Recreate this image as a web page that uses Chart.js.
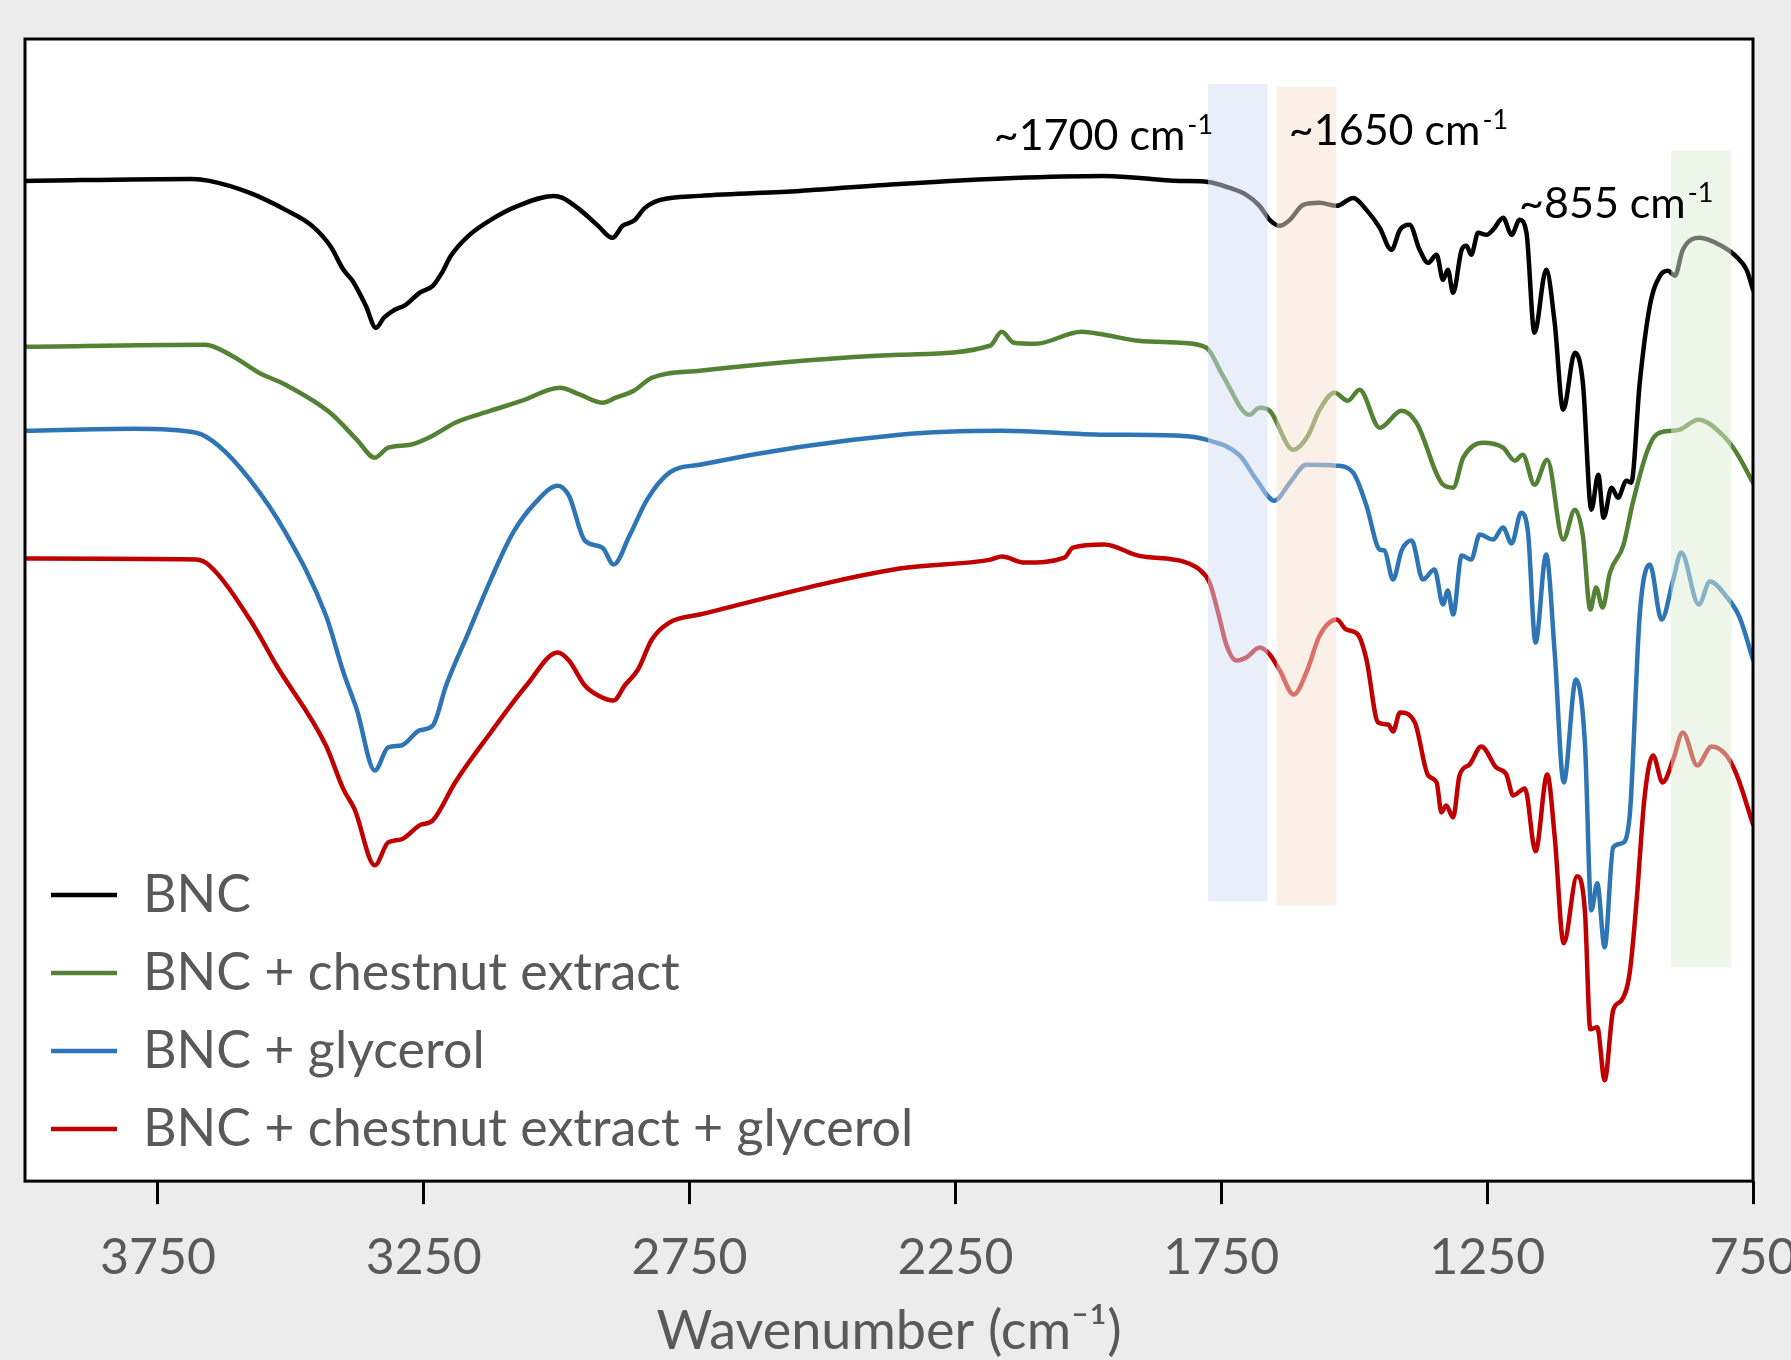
<!DOCTYPE html>
<html>
<head>
<meta charset="utf-8">
<script src="https://cdn.jsdelivr.net/npm/chart.js@4.4.1/dist/chart.umd.min.js"></script>
<style>
  html, body { margin: 0; padding: 0; background: #ececec; overflow: hidden; }
  #wrap { width: 1791px; height: 1360px; }
</style>
</head>
<body>
<div id="wrap"><canvas id="ftirChart" width="1791" height="1360"></canvas></div>
<script>
// FTIR spectra, values (wavenumber in cm-1, signal in arbitrary offset units)
const seriesNames = ['BNC', 'BNC + chestnut extract', 'BNC + glycerol', 'BNC + chestnut extract + glycerol'];
const seriesColors = ['#000000', '#548235', '#2E75B6', '#C00000'];

const bncWavenumber = [4000, 3686, 3653, 3577, 3510, 3460, 3426, 3401, 3384, 3359, 3340, 3325, 3308, 3284, 3258, 3233, 3216, 3199, 3166, 3124, 3073, 3006, 2989, 2956, 2922, 2895, 2876, 2855, 2834, 2805, 2731, 2543, 2355, 2141, 1970, 1828, 1775, 1734, 1703, 1678, 1659, 1640, 1621, 1596, 1565, 1533, 1502, 1477, 1452, 1430, 1414, 1396, 1377, 1361, 1345, 1333, 1324, 1314, 1298, 1289, 1280, 1267, 1251, 1239, 1220, 1204, 1189, 1176, 1161, 1139, 1123, 1107, 1085, 1070, 1054, 1041, 1031, 1016, 1004, 988, 979, 963, 944, 925, 910, 897, 882, 850, 813, 781, 762, 750];
const bncSignal = [100.1, 100.3, 100.1, 98.9, 97.2, 95.6, 93.6, 91.2, 90.1, 87.6, 85.4, 86.4, 87.1, 87.7, 88.9, 89.6, 90.9, 92.6, 94.6, 96.2, 97.6, 98.6, 98.4, 97.2, 95.6, 94.4, 95.6, 96.1, 97.4, 98.2, 98.6, 99.1, 99.8, 100.4, 100.6, 100.1, 100.0, 99.4, 98.7, 97.6, 96.2, 95.6, 96.2, 97.7, 97.9, 97.6, 98.4, 97.2, 95.4, 93.2, 95.2, 95.7, 93.2, 91.9, 92.7, 90.2, 91.2, 88.9, 93.2, 93.6, 92.7, 94.9, 94.7, 95.2, 96.4, 94.7, 96.2, 94.9, 84.9, 91.2, 85.9, 77.2, 82.9, 79.9, 67.2, 70.7, 66.4, 69.4, 68.4, 70.1, 69.9, 79.9, 87.6, 90.6, 91.1, 90.6, 93.2, 94.4, 93.7, 92.5, 91.2, 89.2];

const chestnutWavenumber = [4000, 3661, 3611, 3560, 3510, 3426, 3376, 3342, 3317, 3275, 3233, 3191, 3124, 3065, 2994, 2956, 2914, 2889, 2855, 2821, 2731, 2355, 2185, 2163, 2140, 2099, 2013, 1970, 1906, 1828, 1778, 1747, 1697, 1678, 1659, 1615, 1587, 1565, 1537, 1512, 1490, 1452, 1411, 1383, 1333, 1314, 1295, 1258, 1220, 1198, 1183, 1161, 1137, 1107, 1085, 1070, 1056, 1045, 1033, 1019, 994, 976, 950, 932, 903, 888, 853, 806, 781, 750];
const chestnutSignal = [83.5, 83.7, 82.6, 80.9, 79.7, 76.9, 74.2, 72.4, 73.4, 73.7, 74.6, 75.9, 77.1, 78.1, 79.4, 78.7, 77.9, 78.4, 79.1, 80.4, 81.1, 82.7, 83.6, 85.0, 83.9, 83.8, 85.0, 84.7, 84.1, 83.9, 83.4, 80.6, 76.7, 77.4, 77.1, 73.2, 74.6, 77.2, 78.9, 78.1, 79.2, 75.4, 77.1, 75.9, 69.7, 69.4, 72.4, 73.9, 73.4, 72.1, 72.7, 69.7, 72.2, 64.2, 67.2, 64.6, 57.2, 59.4, 57.4, 60.9, 63.6, 67.9, 72.9, 74.7, 75.1, 75.2, 76.2, 74.6, 72.9, 69.9];

const glycerolWavenumber = [4000, 3795, 3678, 3636, 3577, 3510, 3434, 3401, 3376, 3342, 3317, 3292, 3258, 3233, 3208, 3166, 3124, 3082, 3040, 2998, 2977, 2947, 2914, 2893, 2863, 2830, 2788, 2731, 2355, 2163, 1970, 1828, 1778, 1715, 1684, 1650, 1621, 1590, 1533, 1502, 1477, 1452, 1443, 1427, 1411, 1392, 1371, 1349, 1333, 1324, 1314, 1298, 1280, 1264, 1239, 1220, 1204, 1186, 1173, 1159, 1139, 1123, 1106, 1083, 1066, 1054, 1043, 1029, 1013, 997, 982, 963, 944, 922, 900, 885, 852, 831, 800, 775, 750];
const glycerolSignal = [75.1, 75.3, 74.9, 73.6, 70.2, 64.9, 56.6, 50.9, 47.2, 41.1, 43.4, 43.6, 45.1, 45.6, 49.6, 54.9, 60.2, 64.9, 67.9, 69.6, 68.6, 64.1, 63.4, 61.7, 64.6, 68.2, 70.9, 71.7, 74.7, 75.1, 74.7, 74.6, 74.2, 72.6, 70.2, 68.1, 69.9, 71.7, 71.6, 70.9, 67.6, 63.2, 63.1, 60.2, 63.1, 64.1, 60.2, 61.2, 57.7, 59.1, 56.7, 62.6, 62.2, 64.7, 64.2, 65.4, 63.8, 66.9, 64.8, 53.9, 62.7, 52.9, 39.9, 50.2, 43.7, 27.1, 29.8, 23.4, 33.4, 33.8, 36.5, 56.7, 61.7, 56.2, 60.2, 62.9, 57.7, 60.0, 58.5, 56.4, 52.2];

const bothWavenumber = [4000, 3678, 3653, 3577, 3527, 3434, 3401, 3380, 3342, 3317, 3292, 3258, 3233, 3191, 3124, 3057, 2998, 2977, 2947, 2922, 2893, 2872, 2847, 2821, 2788, 2731, 2355, 2184, 2163, 2120, 2045, 2029, 1970, 1906, 1821, 1791, 1772, 1756, 1740, 1722, 1703, 1678, 1659, 1640, 1614, 1590, 1565, 1533, 1515, 1493, 1477, 1455, 1436, 1427, 1414, 1386, 1361, 1345, 1336, 1327, 1314, 1302, 1283, 1261, 1233, 1214, 1201, 1179, 1159, 1137, 1123, 1106, 1081, 1066, 1056, 1043, 1029, 1013, 997, 982, 969, 954, 938, 920, 900, 882, 855, 828, 800, 781, 750];
const bothSignal = [62.3, 62.2, 61.6, 56.2, 51.6, 43.6, 39.2, 37.2, 31.6, 33.9, 34.2, 35.6, 36.1, 39.9, 44.9, 49.6, 52.9, 52.1, 49.6, 48.6, 48.1, 49.6, 51.2, 54.2, 55.9, 56.7, 61.3, 62.2, 62.5, 61.9, 62.4, 63.4, 63.7, 62.6, 62.0, 61.2, 59.9, 56.9, 53.6, 52.1, 52.4, 53.4, 52.7, 51.1, 48.7, 50.9, 54.6, 56.2, 55.2, 54.7, 52.2, 45.9, 45.7, 45.0, 46.9, 45.9, 40.6, 39.9, 36.9, 37.6, 36.4, 40.6, 41.7, 43.5, 41.4, 40.7, 38.6, 39.3, 33.0, 40.7, 34.5, 23.8, 30.5, 26.9, 15.2, 15.4, 10.1, 17.1, 18.1, 20.8, 28.0, 38.4, 42.6, 39.9, 42.2, 44.9, 41.6, 43.5, 42.6, 40.7, 35.7];

const tickValues = [3750, 3250, 2750, 2250, 1750, 1250, 750];

// highlighted bands (wavenumber from/to, signal bottom/top) and the peak labels
const bandWavenumbers = [[1775, 1663], [1646, 1534], [904, 791]];
const bandSignals = [[28.0, 109.8], [27.6, 109.5], [21.4, 103.1]];
const bandColors = ['rgba(211,221,241,0.5)', 'rgba(247,225,209,0.5)', 'rgba(221,237,213,0.5)'];
const peakLabels = ['~1700 cm', '~1650 cm', '~855 cm'];
const peakLabelAt = [[2178, 103.2], [1623, 103.7], [1190, 96.4]];

const FONT = 'Lato, "Open Sans", sans-serif';

function pairs(xs, ys) {
    return xs.map((x, i) => ({ x: x, y: ys[i] }));
}

const spectra = [
    pairs(bncWavenumber, bncSignal),
    pairs(chestnutWavenumber, chestnutSignal),
    pairs(glycerolWavenumber, glycerolSignal),
    pairs(bothWavenumber, bothSignal)
];

const framePlugin = {
    id: 'frame',
    afterLayout(chart) {
        // keep the in-plot legend inside the plot area box
        const lg = chart.legend;
        if (lg) {
            lg.top = chart.chartArea.top;
            lg.bottom = chart.chartArea.bottom;
        }
    },
    beforeDraw(chart) {
        const { ctx, chartArea: a } = chart;
        ctx.save();
        ctx.fillStyle = '#ffffff';
        ctx.fillRect(a.left, a.top, a.right - a.left, a.bottom - a.top);
        ctx.restore();
    },
    afterDatasetsDraw(chart) {
        const { ctx, chartArea: a, scales: { x, y } } = chart;
        ctx.save();
        bandWavenumbers.forEach((b, i) => {
            const x1 = x.getPixelForValue(b[0]);
            const x2 = x.getPixelForValue(b[1]);
            const y1 = y.getPixelForValue(bandSignals[i][1]);
            const y2 = y.getPixelForValue(bandSignals[i][0]);
            ctx.fillStyle = bandColors[i];
            ctx.fillRect(x1, y1, x2 - x1, y2 - y1);
        });

        ctx.strokeStyle = '#000000';
        ctx.lineWidth = 3;
        ctx.strokeRect(a.left, a.top, a.right - a.left, a.bottom - a.top);

        ctx.fillStyle = '#000000';
        ctx.textAlign = 'left';
        ctx.textBaseline = 'alphabetic';
        peakLabels.forEach((t, i) => {
            const px = x.getPixelForValue(peakLabelAt[i][0]);
            const py = y.getPixelForValue(peakLabelAt[i][1]);
            ctx.font = '43px ' + FONT;
            ctx.fillText(t, px, py);
            const w = ctx.measureText(t).width;
            ctx.font = '27px ' + FONT;
            ctx.fillText('-1', px + w + 2, py - 16);
        });
        ctx.restore();
    }
};

const ctx = document.getElementById('ftirChart').getContext('2d');
const ftirChart = new Chart(ctx, {
    type: 'line',
    data: {
        datasets: spectra.map((pts, i) => ({
            label: seriesNames[i],
            data: pts,
            borderColor: seriesColors[i],
            backgroundColor: seriesColors[i],
            borderWidth: 4.5,
            pointRadius: 0,
            fill: false,
            cubicInterpolationMode: 'monotone',
            borderJoinStyle: 'round',
            borderCapStyle: 'round'
        }))
    },
    options: {
        responsive: false,
        animation: false,
        devicePixelRatio: 1,
        layout: {
            padding: { left: 25, right: 38, top: 39, bottom: 0 }
        },
        scales: {
            x: {
                type: 'linear',
                reverse: true,
                min: 750,
                max: 4000,
                afterBuildTicks: (scale) => {
                    scale.ticks = tickValues.map(v => ({ value: v }));
                },
                afterFit: (scale) => {
                    scale.paddingLeft = 0;
                    scale.paddingRight = 0;
                },
                border: { display: false },
                grid: {
                    drawOnChartArea: false,
                    drawTicks: true,
                    tickLength: 23,
                    tickWidth: 3,
                    tickColor: '#000000'
                },
                ticks: {
                    color: '#595959',
                    padding: 24,
                    maxRotation: 0,
                    autoSkip: false,
                    font: { family: FONT, size: 50 },
                    callback: (value) => String(value)
                },
                title: {
                    display: true,
                    text: 'Wavenumber (cm\u207B\u00B9)',
                    color: '#595959',
                    padding: { top: 0, bottom: 9 },
                    font: { family: FONT, size: 54, lineHeight: 0.72 }
                }
            },
            y: {
                display: false,
                min: 0,
                max: 114.3
            }
        },
        plugins: {
            tooltip: { enabled: false },
            legend: {
                position: 'chartArea',
                align: 'end',
                labels: {
                    usePointStyle: true,
                    pointStyle: 'line',
                    pointStyleWidth: 66,
                    padding: 26,
                    color: '#595959',
                    font: { family: FONT, size: 52 }
                }
            }
        }
    },
    plugins: [framePlugin]
});
</script>
</body>
</html>
